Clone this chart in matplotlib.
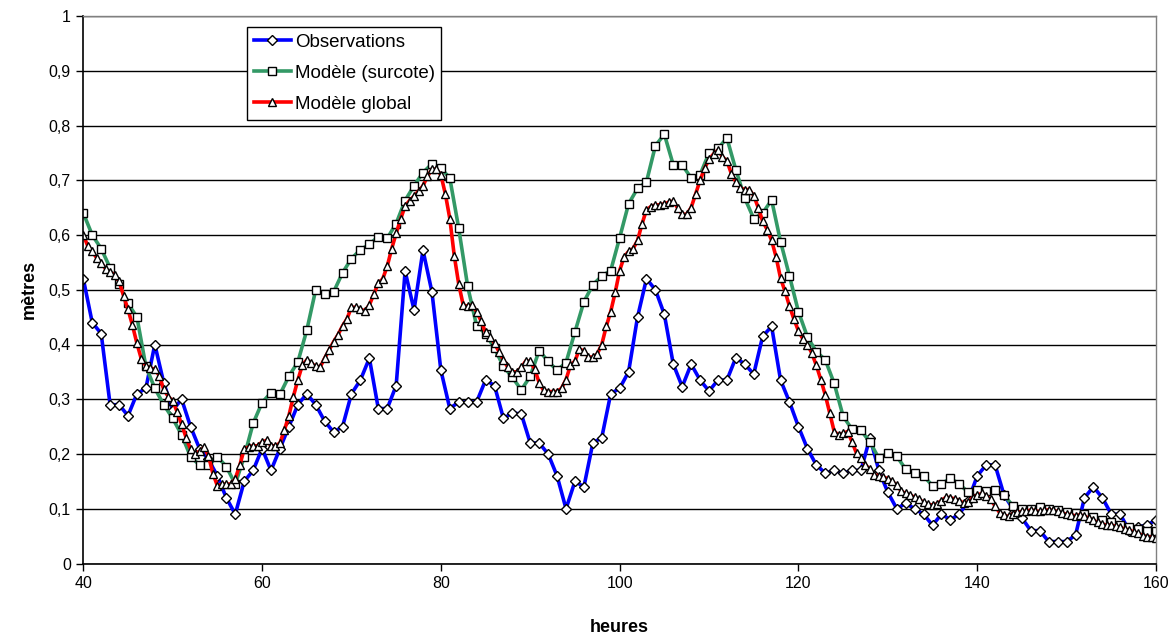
import numpy as np
import matplotlib

matplotlib.use("Agg")
import matplotlib.pyplot as plt
from matplotlib.ticker import FuncFormatter

plt.rcParams["font.family"] = ["Liberation Sans", "DejaVu Sans"]

# heures (observations et surcote : pas horaire ; modèle global : pas demi-horaire)
hours = np.arange(40, 161, 1)
half_hours = np.arange(40, 160.5, 0.5)

observations = [
    0.52, 0.44, 0.42, 0.29, 0.29, 0.27, 0.31, 0.32, 0.40, 0.33,
    0.28, 0.30, 0.25, 0.21, 0.19, 0.16, 0.12, 0.09, 0.15, 0.17,
    0.21, 0.17, 0.21, 0.25, 0.29, 0.31, 0.29, 0.26, 0.24, 0.25,
    0.31, 0.335, 0.375, 0.283, 0.283, 0.325, 0.534, 0.463, 0.572, 0.496,
    0.353, 0.283, 0.295, 0.295, 0.295, 0.335, 0.325, 0.265, 0.275, 0.273,
    0.22, 0.22, 0.20, 0.16, 0.10, 0.15, 0.14, 0.22, 0.23, 0.31,
    0.32, 0.35, 0.45, 0.52, 0.50, 0.455, 0.364, 0.323, 0.364, 0.335,
    0.315, 0.335, 0.335, 0.376, 0.364, 0.346, 0.415, 0.433, 0.335, 0.295,
    0.25, 0.21, 0.18, 0.165, 0.17, 0.165, 0.17, 0.17, 0.23, 0.17,
    0.13, 0.10, 0.11, 0.10, 0.09, 0.07, 0.09, 0.08, 0.09, 0.115,
    0.16, 0.18, 0.18, 0.125, 0.10, 0.083, 0.06, 0.06, 0.04, 0.04,
    0.04, 0.052, 0.12, 0.14, 0.12, 0.09, 0.09, 0.06, 0.067, 0.07, 0.08,
]

modele_surcote = [
    0.64, 0.60, 0.575, 0.54, 0.51, 0.475, 0.45, 0.36, 0.32, 0.29,
    0.265, 0.235, 0.195, 0.18, 0.18, 0.195, 0.177, 0.145, 0.195, 0.256,
    0.294, 0.312, 0.309, 0.342, 0.368, 0.426, 0.50, 0.492, 0.496, 0.531,
    0.557, 0.573, 0.583, 0.597, 0.594, 0.621, 0.663, 0.69, 0.714, 0.73,
    0.722, 0.704, 0.612, 0.506, 0.434, 0.42, 0.393, 0.36, 0.34, 0.317,
    0.342, 0.389, 0.369, 0.353, 0.367, 0.423, 0.478, 0.509, 0.525, 0.535,
    0.595, 0.657, 0.685, 0.697, 0.763, 0.784, 0.728, 0.728, 0.704, 0.71,
    0.75, 0.758, 0.777, 0.719, 0.667, 0.63, 0.64, 0.664, 0.588, 0.525,
    0.46, 0.414, 0.387, 0.372, 0.329, 0.269, 0.245, 0.243, 0.222, 0.192,
    0.202, 0.196, 0.172, 0.165, 0.16, 0.142, 0.145, 0.156, 0.145, 0.13,
    0.134, 0.133, 0.135, 0.125, 0.105, 0.10, 0.10, 0.104, 0.10, 0.097,
    0.094, 0.092, 0.09, 0.085, 0.08, 0.076, 0.07, 0.066, 0.063, 0.06, 0.06,
]

modele_global = [
    0.60, 0.58, 0.57, 0.558, 0.549, 0.538, 0.532, 0.527, 0.516, 0.489,
    0.464, 0.435, 0.402, 0.373, 0.361, 0.357, 0.355, 0.343, 0.318, 0.305,
    0.297, 0.277, 0.254, 0.23, 0.209, 0.20, 0.205, 0.212, 0.197, 0.164,
    0.142, 0.145, 0.145, 0.145, 0.155, 0.179, 0.209, 0.213, 0.215, 0.215,
    0.222, 0.225, 0.215, 0.215,
    0.22, 0.244, 0.27, 0.305, 0.335, 0.362, 0.372, 0.366, 0.36, 0.359,
    0.375, 0.39, 0.405, 0.418, 0.434, 0.447, 0.468, 0.468, 0.464, 0.462,
    0.472, 0.492, 0.512, 0.52, 0.543, 0.575, 0.603, 0.629, 0.653, 0.663,
    0.671, 0.68, 0.69, 0.707, 0.72, 0.72, 0.71, 0.675, 0.63, 0.562,
    0.51, 0.472, 0.47, 0.472, 0.46, 0.443, 0.422, 0.414, 0.402, 0.387,
    0.372, 0.358, 0.35, 0.35, 0.358, 0.37, 0.369, 0.355, 0.33, 0.316,
    0.314, 0.314, 0.314, 0.32, 0.336, 0.362, 0.37, 0.391, 0.389, 0.377,
    0.377, 0.383, 0.40, 0.433, 0.46, 0.495, 0.535, 0.56, 0.57, 0.575,
    0.59, 0.62, 0.646, 0.652, 0.655, 0.655, 0.657, 0.66, 0.662, 0.649,
    0.638, 0.638, 0.65, 0.675, 0.70, 0.722, 0.738, 0.748, 0.755, 0.743,
    0.735, 0.712, 0.697, 0.686, 0.683, 0.683, 0.672, 0.65, 0.625, 0.61,
    0.59, 0.56, 0.521, 0.497, 0.47, 0.446, 0.425, 0.41, 0.40, 0.384,
    0.362, 0.336, 0.308, 0.275, 0.241, 0.235, 0.238, 0.241, 0.222, 0.201,
    0.193, 0.18, 0.172, 0.162, 0.16, 0.158, 0.155, 0.15, 0.143, 0.132,
    0.128, 0.125, 0.121, 0.117, 0.112, 0.108, 0.107, 0.109, 0.115, 0.121,
    0.12, 0.118, 0.115, 0.11, 0.113, 0.12, 0.125, 0.128, 0.124, 0.117,
    0.105, 0.093, 0.088, 0.086, 0.091, 0.094, 0.095, 0.095, 0.098, 0.096,
    0.095, 0.097, 0.098, 0.097, 0.095, 0.092, 0.09, 0.089, 0.087, 0.089,
    0.086, 0.083, 0.079, 0.075, 0.072, 0.07, 0.07, 0.068, 0.066, 0.063,
    0.061, 0.058, 0.055, 0.051, 0.049, 0.048, 0.046,
]

labels = ["Observations", "Modèle (surcote)", "Modèle global"]
y_ticks = np.arange(0, 1.01, 0.1)
x_ticks = [40, 60, 80, 100, 120, 140, 160]


def fmt_fr(v, pos):
    if abs(v) < 1e-9:
        return "0"
    if abs(v - 1) < 1e-9:
        return "1"
    return f"{v:.1f}".replace(".", ",")


W, H = 1173, 641
fig = plt.figure(figsize=(W / 100, H / 100), dpi=100)
ax = fig.add_axes([83.3 / W, 1 - 563.5 / H, 1072.7 / W, 547.5 / H])

mk = dict(markerfacecolor="white", markeredgecolor="black", markeredgewidth=1.0)
ax.plot(hours, observations, color="#0000ff", lw=2.6, marker="D", ms=5.4,
        label=labels[0], **mk)
ax.plot(hours, modele_surcote, color="#339966", lw=2.6, marker="s", ms=5.4,
        label=labels[1], **mk)
ax.plot(half_hours, modele_global, color="#ff0000", lw=2.6, marker="^", ms=6.0,
        label=labels[2], **mk)

ax.set_xlim(40, 160)
ax.set_ylim(0, 1)
ax.set_xticks(x_ticks)
ax.set_yticks(y_ticks)
ax.yaxis.set_major_formatter(FuncFormatter(fmt_fr))
ax.grid(axis="y", color="black", lw=1.0)
ax.set_axisbelow(True)
ax.tick_params(direction="out", length=5, width=1.0, labelsize=11.5, pad=4)

for s in ["top", "right"]:
    ax.spines[s].set_color("#808080")
    ax.spines[s].set_linewidth(1.0)
for s in ["left", "bottom"]:
    ax.spines[s].set_color("black")
    ax.spines[s].set_linewidth(1.2)

ax.set_xlabel("heures", fontsize=13, fontweight="bold", labelpad=20)
ax.set_ylabel("mètres", fontsize=13, fontweight="bold", labelpad=8)

leg = ax.legend(loc="upper left", bbox_to_anchor=(0.1526, 0.98), numpoints=1,
                fontsize=13.5, frameon=True, fancybox=False, framealpha=1,
                edgecolor="black", handlelength=2.0, handletextpad=0.2,
                labelspacing=0.75, borderpad=0.35, borderaxespad=0)
leg.get_frame().set_linewidth(1.0)

fig.savefig("out.png", dpi=100)
